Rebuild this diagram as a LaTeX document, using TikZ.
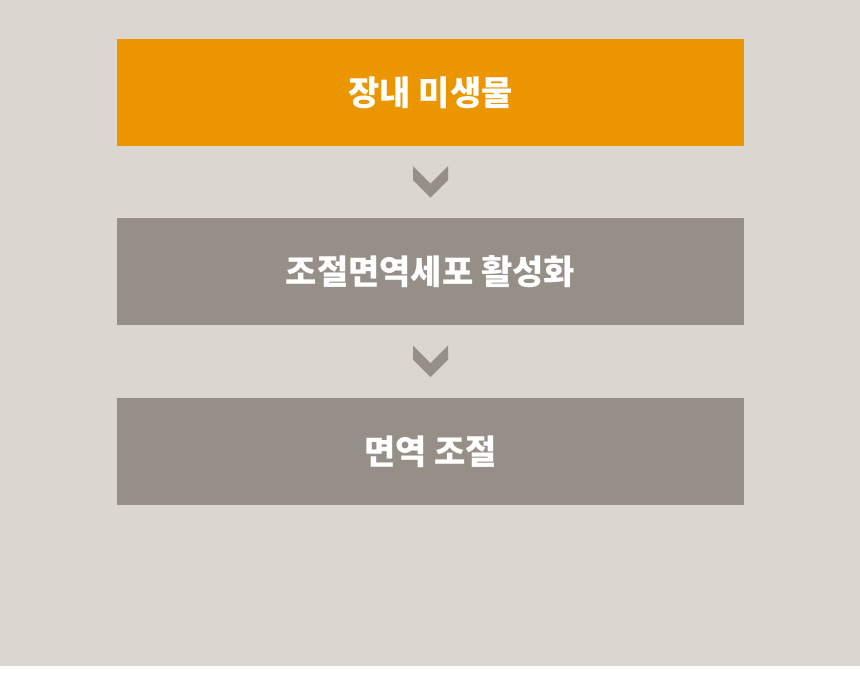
\documentclass[tikz,border=0pt]{standalone}
\usepackage{fontspec}
\newfontfamily\kofont{Noto Sans CJK KR}
\usepackage{tikz}
\usetikzlibrary{positioning}

\begin{document}
\begin{tikzpicture}[
    x=1pt,y=-1pt,
    stagebox/.style={minimum width=627pt,minimum height=107pt,inner sep=0pt,
      text=white,font=\kofont\bfseries\fontsize{34}{34}\selectfont},
    firstbox/.style={stagebox,fill=firstorange},
    nextbox/.style={stagebox,fill=stagegray},
    chevron/.style={fill=stagegray}
  ]
  \definecolor{paper}{HTML}{DBD6D0}
  \definecolor{firstorange}{HTML}{EB9500}
  \definecolor{stagegray}{HTML}{958F88}
  \useasboundingbox (0,0) rectangle (860,674);
  % 배경
  \fill[paper] (0,0) rectangle (860,666);
  % 세 단계
  \node[firstbox] (microbe) at (430.5,92.5) {장내 미생물};
  \node[nextbox,below=72pt of microbe] (treg) {조절면역세포 활성화};
  \node[nextbox,below=72pt of treg] (immune) {면역 조절};
  % 단계 사이의 꺾쇠
  \path (microbe.south) -- (treg.north) coordinate[midway] (arrowA);
  \path (treg.south) -- (immune.north) coordinate[midway] (arrowB);
  \foreach \point in {arrowA,arrowB}{
      \fill[chevron] ([shift={(-17.5,-16)}]\point) -- ([shift={(-17.5,-2)}]\point)
        -- ([shift={(0,15.5)}]\point) -- ([shift={(17.5,-2)}]\point)
        -- ([shift={(17.5,-16)}]\point) -- ([shift={(0,1.5)}]\point) -- cycle;
    }
\end{tikzpicture}
\end{document}
